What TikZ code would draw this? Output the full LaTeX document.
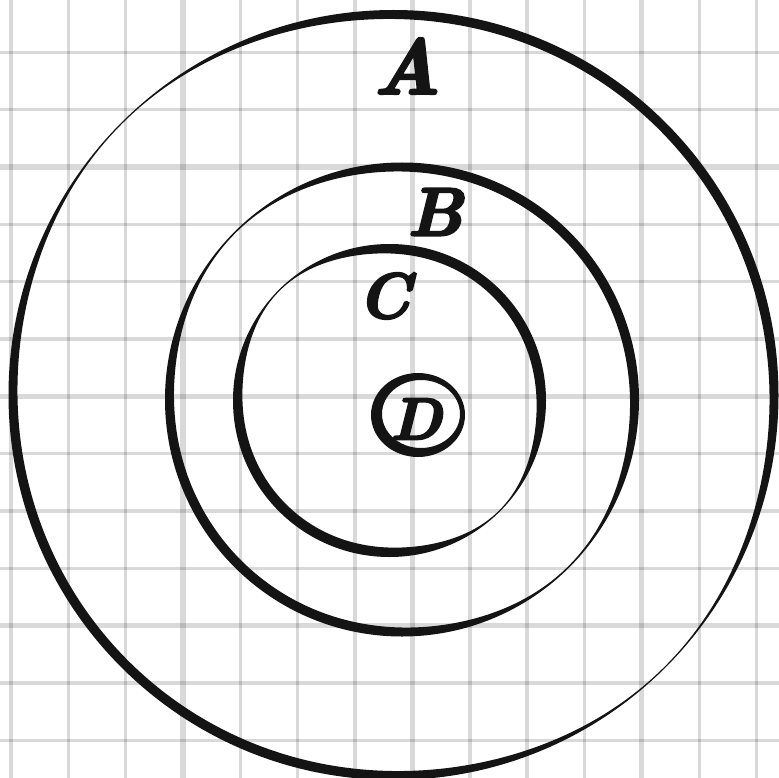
\documentclass[tikz,border=0pt]{standalone}
\usepackage{fontspec}
\newfontfamily\brushfont{Latin Modern Roman}[BoldItalicFeatures={FakeBold=3.5}]
\begin{document}
\begin{tikzpicture}[x=1pt,y=-1pt,
  declare function={sqf(\t)=\t*\t; thinp(\t)=sqf(sqf(sqf(cos(\t))));},
  gridthin/.style={draw=black,opacity=0.15,line width=3.4pt},
  gridthick/.style={draw=black,opacity=0.15,line width=5.2pt},
  inkfill/.style={fill=ink,even odd rule},
  letter/.style={text=ink,inner sep=0pt,font=\fontsize{#1}{#1}\selectfont\brushfont\bfseries\itshape}]
\definecolor{ink}{HTML}{141414}
\newcommand{\brushring}[6]{%
  \fill[inkfill] (#1,#2) circle[radius=#3]
    plot[domain=0:360,samples=181,smooth]
    ({#1+(#3-(#4-(#4-#5)*thinp(\x-#6)))*cos(\x)},{#2+(#3-(#4-(#4-#5)*thinp(\x-#6)))*sin(\x)}) -- cycle;}
\fill[white] (0,0) rectangle (779,778);
\useasboundingbox (0,0) rectangle (779,778);
% grid
\foreach \k in {0,...,13}{
  \pgfmathsetmacro\xx{11+57.35*\k}
  \ifnum\k=3 \def\gs{gridthick}\else\ifnum\k=7 \def\gs{gridthick}\else\ifnum\k=11 \def\gs{gridthick}\else\def\gs{gridthin}\fi\fi\fi
  \draw[\gs] (\xx,0) -- (\xx,778);}
\foreach \k in {0,...,12}{
  \pgfmathsetmacro\yy{52.3+57.35*\k}
  \ifnum\k=2 \def\gs{gridthick}\else\ifnum\k=6 \def\gs{gridthick}\else\ifnum\k=10 \def\gs{gridthick}\else\def\gs{gridthin}\fi\fi\fi
  \draw[\gs] (0,\yy) -- (779,\yy);}
% rings
\brushring{393.5}{395}{385}{9.5}{1.2}{45}
\brushring{402}{399.5}{237}{9.5}{1.5}{45}
\brushring{389.5}{400.5}{156.5}{10}{1.2}{45}
\fill[inkfill] (418,415) ellipse[x radius=47, y radius=42]
  (421,414) ellipse[x radius=39, y radius=34];
% letters
\node[letter=78] (a) at (407,66) {A};
\node[letter=68] (b) at (435,212) {B};
\node[letter=64] (c) at (384,296) {C};
\node[letter=59] (d) at (416,419) {D};
\end{tikzpicture}
\end{document}
